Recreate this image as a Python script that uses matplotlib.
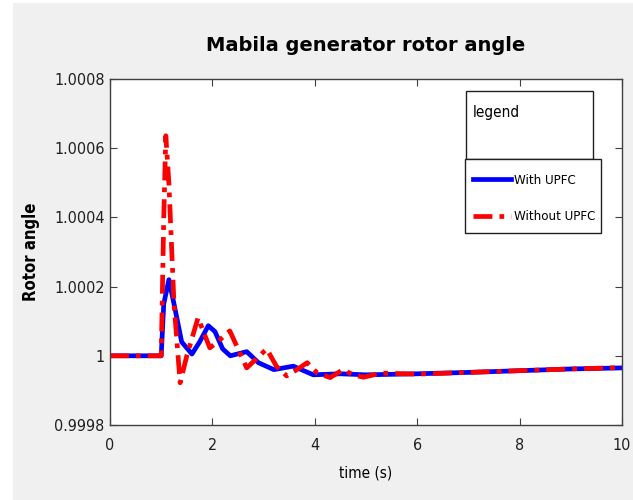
import matplotlib
matplotlib.use('Agg')
import matplotlib.pyplot as plt
from matplotlib.patches import Rectangle

# data
t_with = [0, 1.0, 1.05, 1.15, 1.25, 1.4, 1.6, 1.75, 1.92, 2.05, 2.2, 2.35, 2.67, 2.9,
          3.2, 3.58, 3.97, 4.5, 5.0, 6.0, 7.0, 8.0, 9.0, 10.0]
angle_with = [1.0, 1.0, 1.00015, 1.00022, 1.00015, 1.00004, 1.000005, 1.00004, 1.000087,
              1.00007, 1.00002, 1.0, 1.000012, 0.99998, 0.99996, 0.99997, 0.999945,
              0.999948, 0.999945, 0.999948, 0.999952, 0.999957, 0.999962, 0.999965]

t_without = [0, 1.0, 1.05, 1.09, 1.15, 1.25, 1.37, 1.5, 1.72, 1.85, 1.95, 2.1, 2.34, 2.5,
             2.67, 2.85, 3.06, 3.25, 3.45, 3.65, 3.85, 4.05, 4.3, 4.55, 4.75, 4.95, 5.3,
             6.0, 7.0, 8.0, 9.0, 10.0]
angle_without = [1.0, 1.0, 1.0004, 1.000636, 1.0005, 1.00015, 0.999922, 1.0, 1.00011,
                 1.00006, 1.000023, 1.00004, 1.000072, 1.00002, 0.999965, 0.99999,
                 1.00002, 0.99997, 0.999942, 0.99996, 0.99998, 0.99995, 0.999937,
                 0.99996, 0.999945, 0.999938, 0.99995, 0.999947, 0.999952, 0.999957,
                 0.999962, 0.999966]

x_ticks = [0, 2, 4, 6, 8, 10]
y_ticks = [0.9998, 1.0, 1.0002, 1.0004, 1.0006, 1.0008]
y_ticklabels = ['0.9998', '1', '1.0002', '1.0004', '1.0006', '1.0008']

plt.rcParams['font.family'] = ['DejaVu Sans']
plt.rcParams['font.stretch'] = 'condensed'

fig = plt.figure(figsize=(6.33, 5.0), dpi=100, facecolor='white')
# grey window background
fig.patches.append(Rectangle((13 / 633, 0), 1, 1 - 3 / 500, transform=fig.transFigure,
                             facecolor='#f0f0f0', edgecolor='none', zorder=-1))

ax = fig.add_axes([110 / 633, 75 / 500, 512 / 633, 346 / 500])
ax.plot(t_with, angle_with, color='#0000ff', lw=3.4, label='With UPFC')
ax.plot(t_without, angle_without, color='#ff0000', lw=3.4, linestyle=(0, (4, 1.5, 1, 1.5)),
        label='Without UPFC')

ax.set_xlim(0, 10)
ax.set_ylim(0.9998, 1.0008)
ax.set_xticks(x_ticks)
ax.set_yticks(y_ticks)
ax.set_yticklabels(y_ticklabels)
ax.tick_params(direction='in', length=5, top=True, right=True, color='#404040',
               labelsize=11.5, labelcolor='#202020', pad=4)
ax.tick_params(axis='x', pad=9)
for s in ax.spines.values():
    s.set_color('#404040')
    s.set_linewidth(1.0)

ax.set_title('Mabila generator rotor angle', fontsize=14, fontweight='bold',
             fontstretch='normal', pad=20)
ax.set_xlabel('time (s)', fontsize=11, labelpad=9)
ax.set_ylabel('Rotor angle', fontsize=12, fontweight='bold', labelpad=10)

# "legend" title box sitting above the entries
ax.add_patch(Rectangle((0.695, 0.769), 0.248, 0.196, transform=ax.transAxes,
                       facecolor='white', edgecolor='#202020', lw=1.0, zorder=5))
ax.text(0.708, 0.925, 'legend', transform=ax.transAxes, fontsize=11,
        va='top', ha='left', zorder=6)
# box around the legend entries
ax.add_patch(Rectangle((0.693, 0.555), 0.266, 0.214, transform=ax.transAxes,
                       facecolor='white', edgecolor='#202020', lw=1.0, zorder=5))

leg = ax.legend(loc='upper left', bbox_to_anchor=(0.701, 0.738), frameon=False,
                prop={'size': 9.5}, handlelength=2.9, handletextpad=0.25,
                borderpad=0.3, labelspacing=1.8, borderaxespad=0)
leg.set_zorder(7)

fig.savefig('out.png', dpi=100, facecolor=fig.get_facecolor())
